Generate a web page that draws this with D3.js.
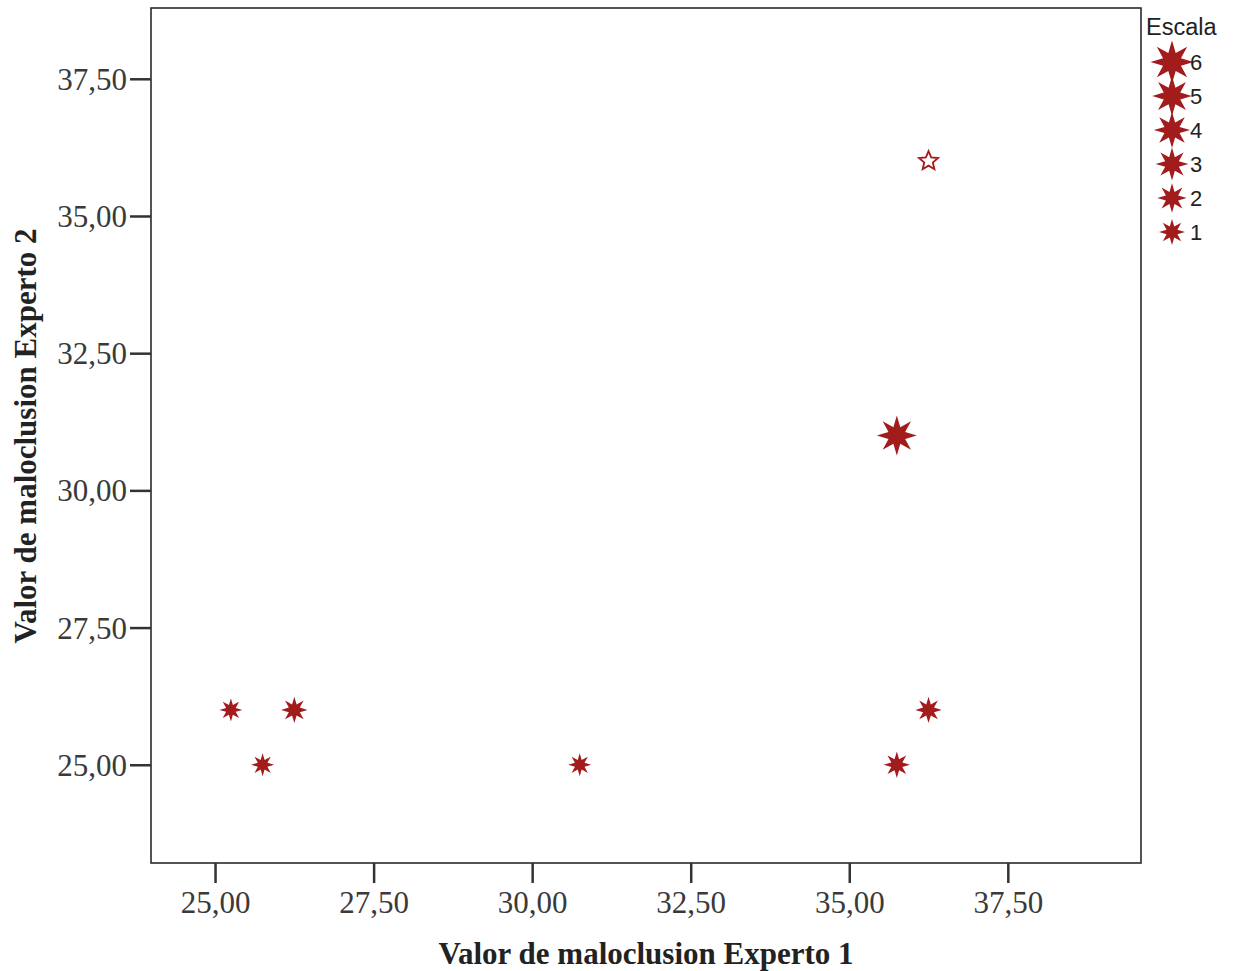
<!DOCTYPE html>
<html>
<head>
<meta charset="utf-8">
<script src="https://cdn.jsdelivr.net/npm/d3@7"></script>
<style>
  html, body { margin: 0; padding: 0; background: #fff; }
  svg { display: block; }
</style>
</head>
<body>
<svg id="chart" width="1237" height="971"></svg>
<script>
// Observations: expert 1 value, expert 2 value, scale level
const experto1 = [25.25, 25.75, 26.25, 30.75, 35.75, 35.75, 36.25];
const experto2 = [26.00, 25.00, 26.00, 25.00, 31.00, 25.00, 26.00];
const escala   = [1, 1, 2, 1, 6, 2, 2];

// Case drawn with the open five-point marker
const abiertoX = [36.25];
const abiertoY = [36.00];

const xTicks = [25, 27.5, 30, 32.5, 35, 37.5];
const yTicks = [25, 27.5, 30, 32.5, 35, 37.5];
const legendLevels = [6, 5, 4, 3, 2, 1];

const color = "#a31a1f";
const frame = { left: 151, top: 8, right: 1141, bottom: 863 };

const svg = d3.select("#chart");

const defs = svg.append("defs");
defs.append("filter").attr("id", "soft")
  .attr("x", "-30%").attr("y", "-30%").attr("width", "160%").attr("height", "160%")
  .append("feGaussianBlur").attr("stdDeviation", 0.6);

const x = d3.scaleLinear().domain([23.99, 39.6]).range([frame.left, frame.right]);
const y = d3.scaleLinear().domain([23.21, 38.79]).range([frame.bottom, frame.top]);
const r = d3.scaleLinear().domain([1, 6]).range([11.5, 20]);

const fmt = v => d3.format(".2f")(v).replace(".", ",");

// Star outline with the given number of points
function starPath(R, points, innerRatio) {
  const pts = [];
  for (let i = 0; i < points * 2; i++) {
    pts.push([i * Math.PI / points, i % 2 === 0 ? R : R * innerRatio]);
  }
  return d3.lineRadial().curve(d3.curveLinearClosed)(pts);
}

// Plot frame
svg.append("rect")
  .attr("x", frame.left).attr("y", frame.top)
  .attr("width", frame.right - frame.left).attr("height", frame.bottom - frame.top)
  .attr("fill", "none").attr("stroke", "#2a2a2a").attr("stroke-width", 1.6);

// Axes
const xAxis = d3.axisBottom(x).tickValues(xTicks).tickFormat(fmt).tickSize(20).tickPadding(8);
const yAxis = d3.axisLeft(y).tickValues(yTicks).tickFormat(fmt).tickSize(21).tickPadding(3);

const gx = svg.append("g").attr("transform", `translate(0,${frame.bottom})`).call(xAxis);
const gy = svg.append("g").attr("transform", `translate(${frame.left},0)`).call(yAxis);
[gx, gy].forEach(g => {
  g.select(".domain").remove();
  g.selectAll(".tick line").attr("stroke", "#333").attr("stroke-width", 2.5);
  g.selectAll(".tick text")
    .attr("fill", "#3a3a3a")
    .style("font-family", "'Liberation Serif', 'Times New Roman', serif")
    .style("font-size", "31px");
});
gy.selectAll(".tick text").attr("dy", "0.34em");

// Axis titles
svg.append("text")
  .attr("x", 646).attr("y", 964)
  .attr("text-anchor", "middle")
  .style("font-family", "'Liberation Serif', 'Times New Roman', serif")
  .style("font-weight", "bold").style("font-size", "31px").attr("fill", "#222")
  .text("Valor de maloclusion Experto 1");

svg.append("text")
  .attr("transform", `translate(36,436) rotate(-90)`)
  .attr("text-anchor", "middle")
  .style("font-family", "'Liberation Serif', 'Times New Roman', serif")
  .style("font-weight", "bold").style("font-size", "31px").attr("fill", "#222")
  .text("Valor de maloclusion Experto 2");

// Data markers
const data = experto1.map((v, i) => ({ x: v, y: experto2[i], s: escala[i] }));
const marks = svg.append("g").attr("filter", "url(#soft)");
marks.selectAll("path.pt").data(data).join("path")
  .attr("class", "pt")
  .attr("transform", d => `translate(${x(d.x)},${y(d.y)})`)
  .attr("d", d => starPath(r(d.s), 8, 0.45))
  .attr("fill", color);

marks.selectAll("path.open").data(abiertoX.map((v, i) => ({ x: v, y: abiertoY[i] }))).join("path")
  .attr("class", "open")
  .attr("transform", d => `translate(${x(d.x)},${y(d.y)})`)
  .attr("d", starPath(10, 5, 0.45))
  .attr("fill", "#fff").attr("stroke", color).attr("stroke-width", 1.8);

// Legend
const legend = svg.append("g");
legend.append("text")
  .attr("x", 1146).attr("y", 35)
  .style("font-family", "'Liberation Sans', Arial, sans-serif")
  .style("font-size", "23.5px").attr("fill", "#222")
  .text("Escala");

const ly = d3.scalePoint().domain(legendLevels).range([62, 232]);
const items = legend.selectAll("g.item").data(legendLevels).join("g")
  .attr("class", "item")
  .attr("transform", d => `translate(1172,${ly(d)})`);
items.append("path")
  .attr("d", d => starPath(r(d) + 1.5, 8, 0.45))
  .attr("fill", color).attr("filter", "url(#soft)");
items.append("text")
  .attr("x", 18).attr("dy", "0.36em")
  .style("font-family", "'Liberation Sans', Arial, sans-serif")
  .style("font-size", "22px").attr("fill", "#222")
  .text(d => d);
</script>
</body>
</html>
